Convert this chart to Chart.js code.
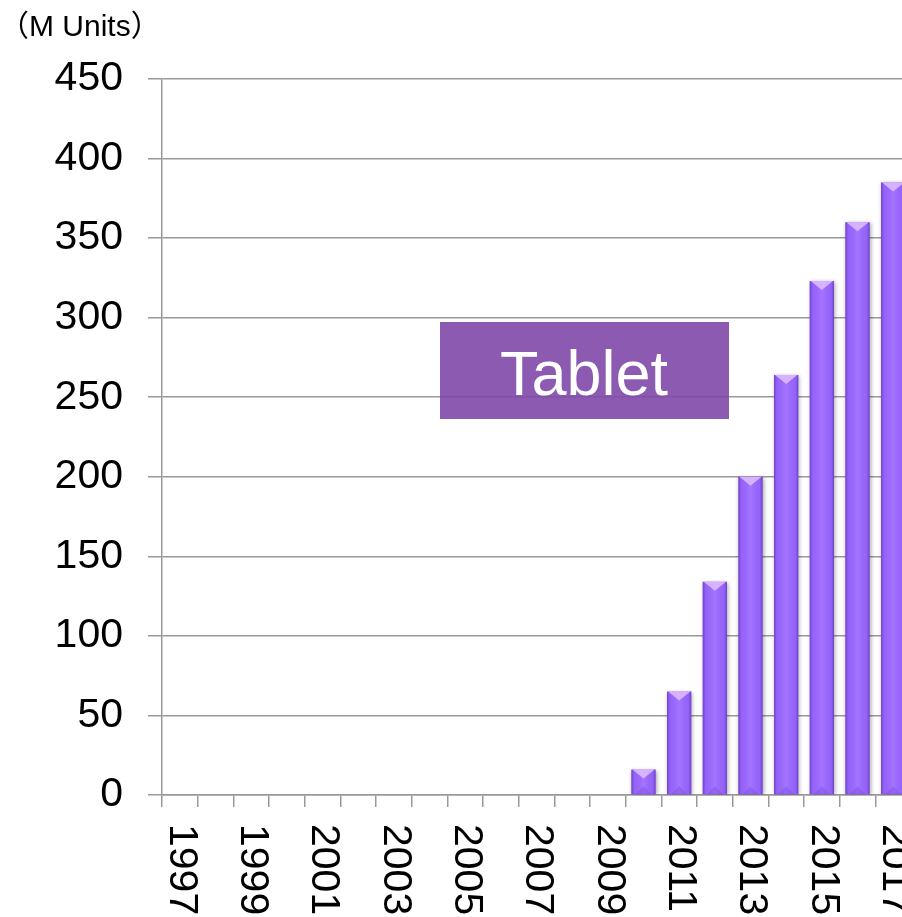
<!DOCTYPE html>
<html>
<head>
<meta charset="utf-8">
<script src="https://cdn.jsdelivr.net/npm/chart.js@4.4.0/dist/chart.umd.min.js"></script>
<style>
  body { margin: 0; overflow: hidden; background: #fff; }
  canvas { display: block; }
</style>
</head>
<body>
<canvas id="chart" width="911" height="917"></canvas>
<script>
// tablet shipments, million units
const years = ['1997','1998','1999','2000','2001','2002','2003','2004','2005','2006','2007',
               '2008','2009','2010','2011','2012','2013','2014','2015','2016','2017'];
const units = [null,null,null,null,null,null,null,null,null,null,null,
               null,null,16,65,134,200,264,323,360,385];
const yTicks = [0,50,100,150,200,250,300,350,400,450];
const shownYears = ['1997','1999','2001','2003','2005','2007','2009','2011','2013','2015','2017'];
const unitLabel = '（M Units）';
const seriesName = 'Tablet';

const font = "'Liberation Sans', Arial, 'Noto Sans CJK JP', sans-serif";
const gridColor = '#999';

// bevel + shading on top of the flat bars
const barLook = {
    id: 'barLook',
    beforeDatasetsDraw(chart){
        const ctx = chart.ctx;
        ctx.save();
        ctx.shadowColor = 'rgba(0,0,0,0.35)';
        ctx.shadowBlur = 4;
        ctx.shadowOffsetX = 1;
        ctx.shadowOffsetY = 1;
    },
    afterDatasetsDraw(chart){
        const ctx = chart.ctx;
        ctx.restore();
        const bars = chart.getDatasetMeta(0).data;
        bars.forEach((bar, i) => {
            if(units[i] == null) return;
            const w = bar.width;
            const left = bar.x - w / 2;
            const right = bar.x + w / 2;
            const top = bar.y;
            const bottom = bar.base;
            let g = ctx.createLinearGradient(left, 0, right, 0);
            g.addColorStop(0, 'rgba(70,30,150,0.5)');
            g.addColorStop(0.12, 'rgba(70,30,150,0.05)');
            g.addColorStop(0.5, 'rgba(255,255,255,0.10)');
            g.addColorStop(0.88, 'rgba(70,30,150,0.05)');
            g.addColorStop(1, 'rgba(70,30,150,0.5)');
            ctx.fillStyle = g;
            ctx.fillRect(left, top, w, bottom - top);
            let h = Math.min(9, (bottom - top) / 2);
            ctx.fillStyle = 'rgba(225,190,255,0.85)';
            ctx.beginPath();
            ctx.moveTo(left + 1, top);
            ctx.lineTo(right - 1, top);
            ctx.lineTo(bar.x, top + h);
            ctx.closePath();
            ctx.fill();
            ctx.fillStyle = 'rgba(120,70,220,0.35)';
            ctx.beginPath();
            ctx.moveTo(left + 4, bottom);
            ctx.lineTo(right - 4, bottom);
            ctx.lineTo(bar.x, bottom - 8);
            ctx.closePath();
            ctx.fill();
        });
    }
};

const extras = {
    id: 'extras',
    afterDraw(chart){
        const ctx = chart.ctx;
        const xs = chart.scales.x;
        ctx.save();
        // unit label
        ctx.fillStyle = '#000';
        ctx.font = `30px ${font}`;
        ctx.textAlign = 'left';
        ctx.textBaseline = 'alphabetic';
        ctx.fillText(unitLabel, -1, 36);

        // year labels, rotated clockwise
        ctx.font = `41px ${font}`;
        ctx.textBaseline = 'middle';
        years.forEach((yr, i) => {
            if(!shownYears.includes(yr)) return;
            ctx.save();
            ctx.translate(xs.getPixelForTick(i) + 1, 824);
            ctx.rotate(Math.PI / 2);
            ctx.fillText(yr, 0, 0);
            ctx.restore();
        });

        // series name box
        ctx.fillStyle = 'rgba(128,72,168,0.9)';
        ctx.fillRect(440, 322, 289, 97);
        ctx.fillStyle = '#fff';
        ctx.font = `63px ${font}`;
        ctx.textAlign = 'center';
        ctx.textBaseline = 'alphabetic';
        ctx.fillText(seriesName, 584, 395);
        ctx.restore();
    }
};

new Chart(document.getElementById('chart'), {
    type: 'bar',
    data: {
        labels: years,
        datasets: [{
            label: seriesName,
            data: units,
            backgroundColor: '#9966ff',
            borderWidth: 0,
            categoryPercentage: 1,
            barPercentage: 0.68
        }]
    },
    options: {
        responsive: false,
        animation: false,
        layout: { padding: { top: 79, left: 0, right: 0, bottom: 0 } },
        plugins: {
            legend: { display: false },
            title: { display: false },
            tooltip: { enabled: false }
        },
        scales: {
            x: {
                offset: true,
                grid: {
                    offset: true,
                    drawOnChartArea: false,
                    drawTicks: true,
                    tickLength: 12,
                    color: gridColor,
                    lineWidth: 1.5
                },
                border: { color: gridColor, width: 1.5 },
                ticks: { display: false },
                afterFit(scale){ scale.height = 122; }
            },
            y: {
                min: 0,
                max: 450,
                afterBuildTicks(scale){ scale.ticks = yTicks.map(v => ({ value: v })); },
                grid: {
                    color: gridColor,
                    lineWidth: 1.5,
                    tickLength: 14
                },
                border: { color: gridColor, width: 1.5 },
                ticks: {
                    color: '#000',
                    padding: 25,
                    font: { family: font, size: 41 }
                },
                afterFit(scale){ scale.width = 162; }
            }
        }
    },
    plugins: [barLook, extras]
});
</script>
</body>
</html>
